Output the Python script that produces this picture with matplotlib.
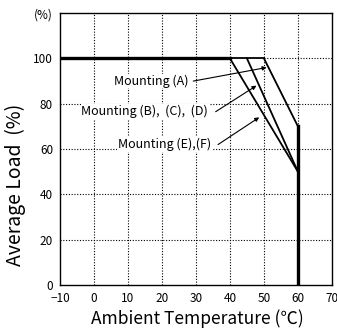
import matplotlib.pyplot as plt

plt.rcParams['font.family'] = ['Noto Sans CJK JP', 'DejaVu Sans']

# derating curves (ambient temp degC, load %)
temp_a = [50, 60, 60]
load_a = [100, 70, 0]
temp_bcd = [45, 60]
load_bcd = [100, 50]
temp_ef = [40, 60]
load_ef = [100, 50]
temp_common = [-10, 40]
load_common = [100, 100]
temp_flat = [40, 50]
load_flat = [100, 100]
temp_cut = [60, 60]
load_cut = [70, 0]

x_ticks = [-10, 0, 10, 20, 30, 40, 50, 60, 70]
y_ticks = [0, 20, 40, 60, 80, 100, 120]
y_labels = ['0', '20', '40', '60', '80', '100', '(%)']

labels = ['Mounting (A)', 'Mounting (B),  (C),  (D)', 'Mounting (E),(F)']
label_pos = [(16.7, 90), (14.9, 76.5), (20.8, 62)]
arrow_from = [(29.2, 90), (35.8, 76.5), (36.5, 62)]
arrow_to = [(50.8, 96), (47.8, 88), (48.6, 74)]

fig = plt.figure(figsize=(3.37, 3.28), dpi=100)
ax = fig.add_axes([0.178, 0.131, 0.807, 0.829])

# dotted grid
for x in range(0, 70, 10):
    ax.plot([x, x], [0, 120], color='black', lw=0.8, ls=(0, (1, 1.5)), zorder=1)
for y in [20, 40, 60, 80]:
    ax.plot([-10, 70], [y, y], color='black', lw=0.8, ls=(0, (1, 1.5)), zorder=1)
ax.plot([50, 70], [100, 100], color='black', lw=0.8, ls=(0, (1, 1.5)), zorder=1)

ax.plot(temp_a, load_a, color='black', lw=1.3, zorder=3)
ax.plot(temp_bcd, load_bcd, color='black', lw=1.3, zorder=3)
ax.plot(temp_ef, load_ef, color='black', lw=1.3, zorder=3)
ax.plot(temp_flat, load_flat, color='black', lw=1.3, zorder=3)
ax.plot(temp_common, load_common, color='black', lw=2.4, zorder=4)
ax.plot(temp_cut, load_cut, color='black', lw=2.4, zorder=4)

for txt, pos, src, dst in zip(labels, label_pos, arrow_from, arrow_to):
    ax.text(pos[0], pos[1], txt, fontsize=9, ha='center', va='center', zorder=5,
            bbox=dict(facecolor='white', edgecolor='none', pad=0.5))
    ax.annotate('', xy=dst, xytext=src, zorder=5,
                arrowprops=dict(arrowstyle='-|>', color='black', lw=0.8,
                                mutation_scale=6, shrinkA=0, shrinkB=0))

ax.set_xlim(-10, 70)
ax.set_ylim(0, 120)
ax.set_xticks(x_ticks)
ax.set_yticks(y_ticks)
ax.set_yticklabels(y_labels)
ax.tick_params(length=0, labelsize=8.5, pad=5)
for s in ax.spines.values():
    s.set_linewidth(1.0)

fig.text(197 / 337, 1 - 324 / 328, 'Ambient Temperature (℃)', fontsize=12.5,
         ha='center', va='baseline')
fig.text(15 / 337, 1 - 185 / 328, 'Average Load  (%)', fontsize=14,
         ha='center', va='center', rotation=90)

fig.savefig('out.png', dpi=100)
